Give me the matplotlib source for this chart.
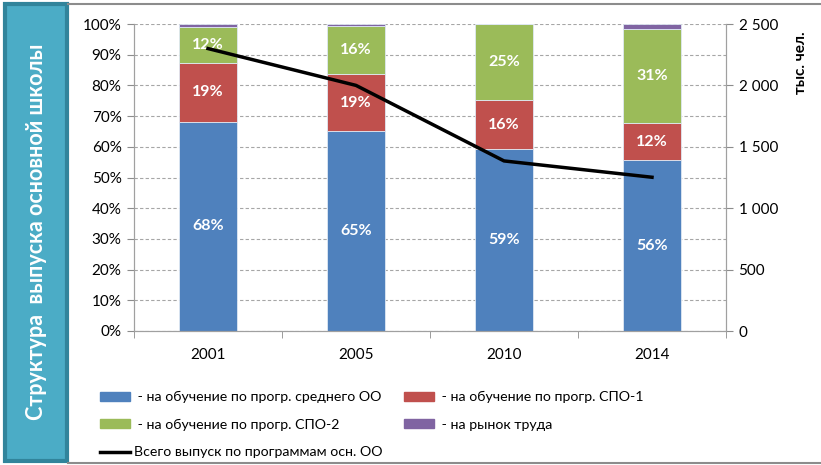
import numpy as np
import matplotlib.pyplot as plt
from matplotlib.patches import Rectangle, Patch
from matplotlib.lines import Line2D
from matplotlib.ticker import FuncFormatter, FixedLocator

plt.rcParams['font.family'] = ['Lato', 'DejaVu Sans']

years = ['2001', '2005', '2010', '2014']
# доли выпуска, %
srednee = [68.1, 65.0, 59.2, 55.6]
spo1 = [19.2, 18.6, 16.0, 12.2]
spo2 = [11.7, 15.6, 24.8, 30.6]
rynok = [1.0, 0.8, 0.0, 1.6]
# всего выпуск, тыс. чел.
total = [2300, 2000, 1385, 1252]

series_names = [' - на обучение по прогр. среднего ОО',
                ' - на обучение по прогр. СПО-1',
                ' - на обучение по прогр. СПО-2',
                ' - на рынок труда']
line_name = 'Всего выпуск по программам осн. ОО'
colors = ['#4F81BD', '#C0504D', '#9BBB59', '#8064A2']

fig = plt.figure(figsize=(8.21, 4.65), dpi=100)
ax = fig.add_axes([134 / 821, 1 - 331 / 465, 592 / 821, 307 / 465])

x = np.arange(len(years))
bottom = np.zeros(len(years))
for vals, col, name in zip([srednee, spo1, spo2, rynok], colors, series_names):
    ax.bar(x, vals, 0.39, bottom=bottom, color=col, edgecolor='#dfe8f3',
           linewidth=0.6, label=name, zorder=2)
    if name != series_names[3]:
        for xi, b, v in zip(x, bottom, vals):
            ax.text(xi, b + v / 2, f'{v:.0f}%', ha='center', va='center',
                    color='white', fontsize=11.5, fontweight='bold', zorder=4)
    bottom += np.array(vals)

ax.set_xlim(-0.5, len(years) - 0.5)
ax.set_ylim(0, 100)
ax.set_yticks(np.arange(0, 101, 10))
ax.yaxis.set_major_formatter(FuncFormatter(lambda v, p: f'{v:.0f}%'))
ax.yaxis.grid(True, linestyle=(0, (3, 2)), color='#a6a6a6', linewidth=0.8)
ax.set_axisbelow(True)
ax.set_xticks(x)
ax.set_xticklabels(years)
ax.xaxis.set_minor_locator(FixedLocator(np.arange(-0.5, len(years), 1)))
ax.tick_params(axis='x', which='major', length=0, pad=12, labelsize=11)
ax.tick_params(axis='x', which='minor', length=5, color='#8c8c8c')
ax.tick_params(axis='y', length=5, color='#8c8c8c', labelsize=11, pad=4)
for s in ['left', 'bottom', 'right']:
    ax.spines[s].set_color('#a0a0a0')
ax.spines['top'].set_visible(False)

ax2 = ax.twinx()
ax2.plot(x, total, color='black', linewidth=2.5, zorder=5)
ax2.set_ylim(0, 2500)
ax2.set_yticks(np.arange(0, 2501, 500))
ax2.yaxis.set_major_formatter(FuncFormatter(lambda v, p: f'{v:,.0f}'.replace(',', ' ')))
ax2.tick_params(axis='y', length=5, color='#8c8c8c', labelsize=11, pad=4)
for s in ['left', 'bottom', 'right']:
    ax2.spines[s].set_color('#a0a0a0')
ax2.spines['top'].set_visible(False)

fig.text(801 / 821, 1 - 63 / 465, 'тыс. чел.', rotation=90, ha='center', va='center',
         fontsize=11, fontweight='bold')

# рамка и боковая плашка
fig.add_artist(Line2D([68 / 821, 1], [1 - 4 / 465, 1 - 4 / 465], color='#8c8c8c', lw=1.5))
fig.add_artist(Line2D([68 / 821, 1], [1 - 463 / 465, 1 - 463 / 465], color='#8c8c8c', lw=1.5))
fig.add_artist(Rectangle((5 / 821, 4 / 465), 62 / 821, 457 / 465, transform=fig.transFigure,
                         facecolor='#4BACC6', edgecolor='#31849B', linewidth=3))
fig.text(37 / 821, 1 - 232 / 465, 'Структура  выпуска основной школы', rotation=90,
         ha='center', va='center', color='white', fontsize=15.5, fontweight='bold')

handles = [Patch(color=colors[0], label=series_names[0]),
           Patch(color=colors[2], label=series_names[2]),
           Line2D([0], [0], color='black', lw=2.5, label=line_name),
           Patch(color=colors[1], label=series_names[1]),
           Patch(color=colors[3], label=series_names[3])]
fig.legend(handles=handles, loc='upper left', bbox_to_anchor=(100 / 821, 1 - 391 / 465),
           ncol=2, frameon=False, fontsize=10.2, handlelength=2.1, handleheight=0.6,
           handletextpad=0.3, labelspacing=1.1, columnspacing=1.5, borderpad=0,
           borderaxespad=0)

fig.savefig('out.png', dpi=100)
